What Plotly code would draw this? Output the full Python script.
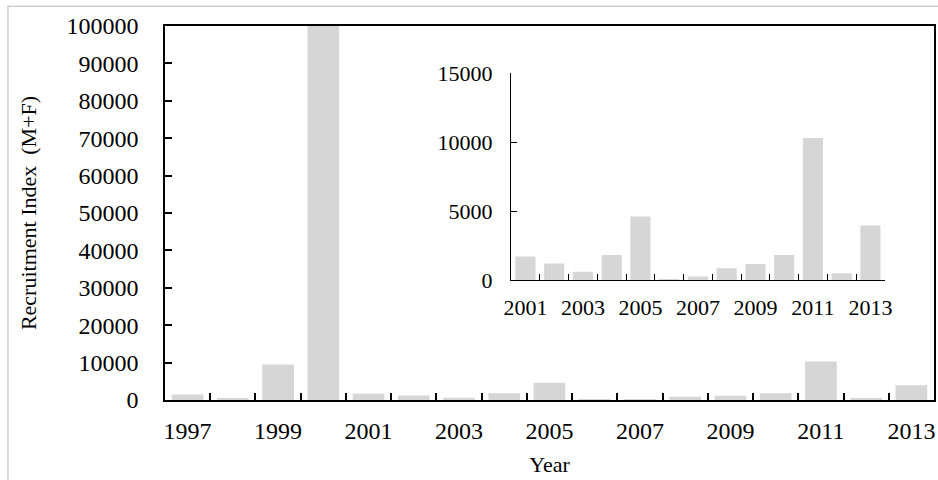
import plotly.graph_objects as go

# --- Data ---
years_main = list(range(1997, 2014))
recruit_main = [1500, 500, 9500, 100000, 1700, 1200, 600, 1800, 4600, 50,
                250, 850, 1150, 1800, 10300, 480, 3950]

years_inset = list(range(2001, 2014))
recruit_inset = [1700, 1200, 600, 1800, 4600, 50, 250, 850, 1150, 1800,
                 10300, 480, 3950]

main_ticks = list(range(1997, 2014, 2))
inset_ticks = list(range(2001, 2014, 2))

BAR = "#d6d6d6"
FONT = "Liberation Serif"

fig = go.Figure()

fig.add_trace(go.Bar(x=years_main, y=recruit_main, marker_color=BAR,
                     marker_line_width=0, xaxis="x", yaxis="y"))
fig.add_trace(go.Bar(x=years_inset, y=recruit_inset, marker_color=BAR,
                     marker_line_width=0, xaxis="x2", yaxis="y2"))

# boundaries between categories get the small ticks
main_bounds = [y + 0.5 for y in years_main[:-1]]
inset_bounds = [y + 0.5 for y in years_inset[:-1]]

fig.update_layout(
    width=938,
    height=480,
    margin=dict(l=165, r=4, t=26, b=80),
    plot_bgcolor="white",
    paper_bgcolor="white",
    showlegend=False,
    bargap=0.3,
    font=dict(family=FONT, size=24, color="black"),
    xaxis=dict(
        range=[1996.5, 2013.5],
        tickvals=main_ticks,
        tickformat="d",
        ticks="",
        ticklabelstandoff=8,
        minor=dict(tickvals=main_bounds, ticks="inside", ticklen=7,
                   tickcolor="black", tickwidth=1.5),
        showline=True, linecolor="black", linewidth=1.5, mirror=True,
        showgrid=False, zeroline=False, automargin=False,
        title=dict(text="Year", standoff=14, font=dict(size=22)),
    ),
    yaxis=dict(
        range=[0, 100000],
        dtick=10000,
        tickformat="d",
        ticks="inside", ticklen=7, tickcolor="black", tickwidth=1.5,
        ticklabelstandoff=20,
        showline=True, linecolor="black", linewidth=1.5, mirror=True,
        showgrid=False, zeroline=False, automargin=False,
        title=dict(text="Recruitment Index  (M+F)", standoff=24, font=dict(size=22)),
    ),
    xaxis2=dict(
        domain=[0.450, 0.936],
        anchor="y2",
        range=[2000.5, 2013.5],
        tickvals=inset_ticks,
        tickformat="d",
        ticks="",
        ticklabelstandoff=8,
        minor=dict(tickvals=inset_bounds, ticks="inside", ticklen=6,
                   tickcolor="black", tickwidth=1.2),
        showline=True, linecolor="black", linewidth=1.2,
        showgrid=False, zeroline=False, automargin=False,
        tickfont=dict(size=22),
    ),
    yaxis2=dict(
        domain=[0.321, 0.874],
        anchor="x2",
        range=[0, 15000],
        tickvals=[0, 5000, 10000, 15000],
        tickformat="d",
        ticks="inside", ticklen=6, tickcolor="black", tickwidth=1.2,
        ticklabelstandoff=13,
        showline=True, linecolor="black", linewidth=1.2,
        showgrid=False, zeroline=False, automargin=False,
        tickfont=dict(size=22),
    ),
)

# light frame along the top and left edge of the picture
fig.add_shape(type="rect", xref="paper", yref="paper",
              x0=-0.2042, x1=1.05, y0=-0.3, y1=1.053,
              line=dict(color="#cfcfcf", width=1.5), layer="below")

# drop the default body margin so the figure fills the window exactly
fig.write_html(
    "out.html",
    config={"displayModeBar": False},
    post_script="document.body.style.margin='0';document.body.style.overflow='hidden';",
)
